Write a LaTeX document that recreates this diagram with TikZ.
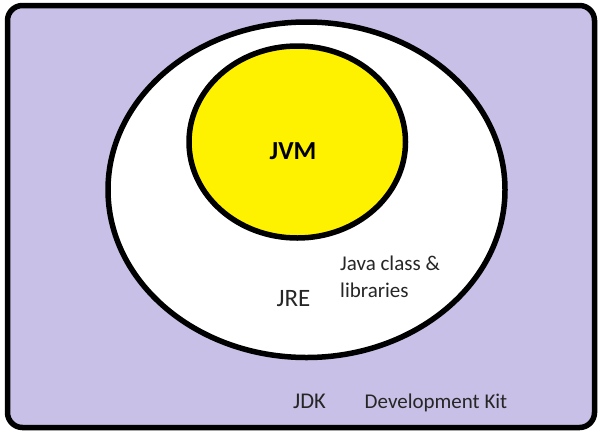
\documentclass[tikz,border=0pt]{standalone}
\usepackage{fontspec}
\setmainfont{Carlito}
\definecolor{lav}{RGB}{200,192,231}
\definecolor{yel}{RGB}{255,242,0}
\definecolor{txt}{RGB}{38,38,38}
\begin{document}
\begin{tikzpicture}[x=1pt,y=-1pt,
  outline/.style={draw=black,line width=5.5pt},
  lbl/.style={text=txt,inner sep=0pt,font=\fontsize{21}{25}\selectfont}]
\useasboundingbox (0,0) rectangle (609,440);
\draw[outline,fill=lav,rounded corners=15pt] (7.5,5.5) rectangle (594.5,427.5);
\draw[outline,fill=white] (306.5,189.75) ellipse [x radius=198.5, y radius=167.75];
\draw[outline,fill=yel] (297.25,142) ellipse [x radius=108.25, y radius=96];
\node[lbl,font=\fontsize{26}{30}\selectfont\bfseries,text=black] (jvm) at (293,151) {JVM};
\node[lbl,font=\fontsize{25}{30}\selectfont] (jre) at (293.5,299) {JRE};
\node[lbl,align=left,anchor=north west,font=\fontsize{21}{26.5}\selectfont] (lib) at (340,256) {Java class \&\\libraries};
\node[lbl,font=\fontsize{22.5}{27}\selectfont] (jdk) at (309.5,401) {JDK};
\node[lbl,font=\fontsize{21}{25}\selectfont] (kit) at (436,403) {Development Kit};
\end{tikzpicture}
\end{document}
